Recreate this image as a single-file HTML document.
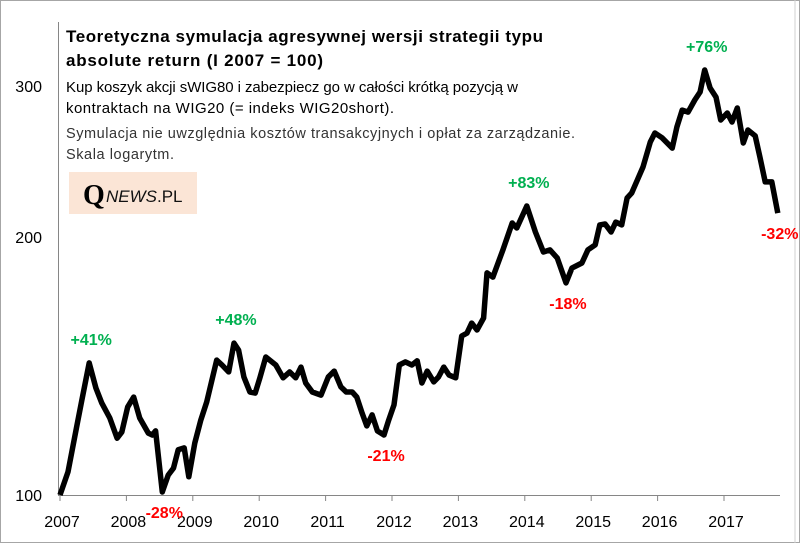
<!DOCTYPE html>
<html><head><meta charset="utf-8"><style>
html,body{margin:0;padding:0;background:#fff}
svg{display:block;font-family:"Liberation Sans",sans-serif}
</style></head><body>
<svg width="800" height="543" viewBox="0 0 800 543">
<rect x="0.5" y="0.5" width="799" height="542" fill="#fff" stroke="#a6a6a6"/>
<line x1="795" y1="0" x2="795" y2="543" stroke="#d0d0d0"/>
<line x1="58.5" y1="22" x2="58.5" y2="495" stroke="#868686"/>
<line x1="58" y1="495.5" x2="780" y2="495.5" stroke="#868686"/>
<g id="yticks"></g>
<g id="xticks"></g>
<text x="66" y="42" font-size="17" font-weight="bold" fill="#000" textLength="477" lengthAdjust="spacing">Teoretyczna symulacja agresywnej wersji strategii typu</text>
<text x="66" y="66" font-size="17" font-weight="bold" fill="#000" textLength="257" lengthAdjust="spacing">absolute return (I 2007 = 100)</text>
<text x="66" y="92" font-size="15" fill="#000" textLength="452" lengthAdjust="spacing">Kup koszyk akcji sWIG80 i zabezpiecz go w całości krótką pozycją w</text>
<text x="66" y="113" font-size="15" fill="#000" textLength="328" lengthAdjust="spacing">kontraktach na WIG20 (= indeks WIG20short).</text>
<text x="66" y="138" font-size="14.5" fill="#333" textLength="509" lengthAdjust="spacing">Symulacja nie uwzględnia kosztów transakcyjnych i opłat za zarządzanie.</text>
<text x="66" y="159" font-size="14.5" fill="#333" textLength="108" lengthAdjust="spacing">Skala logarytm.</text>
<rect x="69" y="172" width="128" height="42" fill="#fbe5d6"/>
<text x="83" y="204" font-family="Liberation Serif,serif" font-size="28" font-weight="bold" fill="#000">Q</text>
<text x="106" y="202" font-size="17" fill="#111"><tspan font-style="italic">NEWS</tspan>.PL</text>
<g id="series"></g>
<g id="annots"></g>
</svg>
<script>
const dates=[2007.00,2007.12,2007.25,2007.33,2007.44,2007.54,2007.63,2007.75,2007.86,2007.93,2008.02,2008.11,2008.20,2008.33,2008.39,2008.44,2008.54,2008.63,2008.71,2008.78,2008.87,2008.94,2009.03,2009.12,2009.21,2009.36,2009.44,2009.54,2009.62,2009.69,2009.77,2009.86,2009.94,2010.01,2010.10,2010.25,2010.36,2010.46,2010.55,2010.63,2010.70,2010.80,2010.93,2011.04,2011.13,2011.23,2011.31,2011.40,2011.47,2011.55,2011.62,2011.70,2011.78,2011.88,2011.95,2012.03,2012.11,2012.20,2012.30,2012.38,2012.45,2012.53,2012.63,2012.70,2012.78,2012.86,2012.96,2013.05,2013.13,2013.20,2013.28,2013.38,2013.43,2013.52,2013.67,2013.81,2013.88,2014.03,2014.16,2014.28,2014.38,2014.49,2014.62,2014.71,2014.86,2014.95,2015.06,2015.13,2015.21,2015.30,2015.37,2015.46,2015.54,2015.61,2015.78,2015.89,2015.96,2016.07,2016.22,2016.29,2016.37,2016.46,2016.56,2016.64,2016.71,2016.79,2016.88,2016.95,2017.05,2017.12,2017.20,2017.29,2017.36,2017.47,2017.54,2017.62,2017.72,2017.81];
const values=[100,106.4,120.0,129.1,142.6,133.3,128.0,123.0,116.5,118.4,126.7,130.1,123.0,118.1,117.5,118.8,100.8,105.5,107.5,112.9,113.5,105.0,115.0,122.3,128.4,143.7,141.8,139.2,150.4,147.6,137.3,131.9,131.5,137.0,144.9,141.8,137.0,139.2,137.0,141.0,135.1,131.9,130.8,137.3,139.5,133.7,131.9,131.9,130.1,124.6,120.4,124.0,118.8,117.5,122.3,127.4,141.8,143.0,141.8,143.4,135.1,139.5,135.5,137.3,141.0,138.0,137.0,153.3,154.5,158.7,155.8,160.9,181.6,179.6,193.2,207.7,204.9,217.4,202.7,192.1,193.2,189.0,176.8,184.0,186.5,193.2,195.8,206.6,207.1,202.7,208.2,206.6,222.1,225.1,241.4,258.2,264.5,261.0,254.0,268.8,281.3,279.8,289.0,295.3,313.3,298.5,291.3,273.9,279.1,272.4,282.9,257.5,266.6,262.4,248.0,231.9,231.9,213.3];
const yTicks=[100,200,300];
const xYears=[2007,2008,2009,2010,2011,2012,2013,2014,2015,2016,2017];
const annotText=["+41%","-28%","+48%","-21%","+83%","-18%","+76%","-32%"];
const annotDate=[2007.44,2008.54,2009.62,2011.88,2014.03,2014.62,2016.71,2017.81];
const annotVal=[142.6,100.8,150.4,117.5,217.4,176.8,313.3,213.3];
const annotUp=[true,false,true,false,true,false,true,false];

const NS="http://www.w3.org/2000/svg";
function X(t){return 60+(t-2007)*66.4;}
function Y(v){return 495-857*Math.log10(v/100);}
function mk(tag,attrs,parent){const e=document.createElementNS(NS,tag);for(const k in attrs)e.setAttribute(k,attrs[k]);parent.appendChild(e);return e;}

const yg=document.getElementById('yticks');
yTicks.forEach(v=>{
  const t=mk('text',{x:42,y:Y(v)+6,'font-size':16,'text-anchor':'end',fill:'#000'},yg);
  
  
  t.textContent=v;
});
const xg=document.getElementById('xticks');
xYears.forEach(yr=>{
  const l=mk('line',{x1:X(yr),x2:X(yr),y1:495,y2:501,stroke:'#868686'},xg);
  
  
  const t=mk('text',{x:X(yr)+2,y:527,'font-size':16,'text-anchor':'middle',fill:'#000'},xg);
  
  
  t.textContent=yr;
});
const sg=document.getElementById('series');
const pts=dates.map((d,i)=>X(d).toFixed(1)+','+Y(values[i]).toFixed(1)).join(' ');
const pl=mk('polyline',{points:pts,fill:'none',stroke:'#000','stroke-width':5.5,'stroke-linejoin':'round','stroke-linecap':'butt'},sg);


const ag=document.getElementById('annots');
annotText.forEach((s,i)=>{
  const up=annotUp[i];
  const t=mk('text',{x:X(annotDate[i])+2,y:up?Y(annotVal[i])-18:Y(annotVal[i])+26,'font-size':16,'font-weight':'bold','text-anchor':'middle',fill:up?'#00b050':'#ff0000'},ag);
  
  
  t.textContent=s;
});
</script>
</body></html>
